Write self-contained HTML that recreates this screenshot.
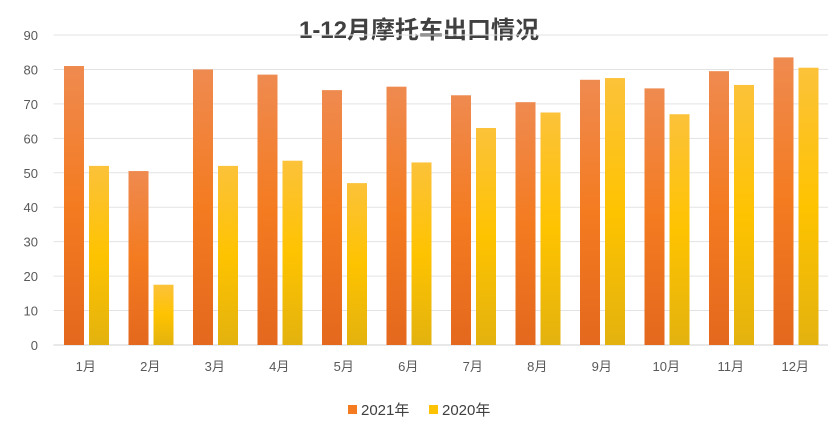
<!DOCTYPE html>
<html><head><meta charset="utf-8"><style>
body{margin:0;background:#fff;font-family:"Liberation Sans","Noto Sans CJK SC",sans-serif}
</style></head><body>
<svg width="838" height="428" id="c" xmlns="http://www.w3.org/2000/svg">
<defs>
<linearGradient id="g1" x1="0" y1="0" x2="0" y2="1"><stop offset="0" stop-color="#ef8a50"/><stop offset="0.5" stop-color="#f47b20"/><stop offset="1" stop-color="#e4681e"/></linearGradient>
<linearGradient id="g2" x1="0" y1="0" x2="0" y2="1"><stop offset="0" stop-color="#fcc23a"/><stop offset="0.5" stop-color="#fec300"/><stop offset="1" stop-color="#e3b20e"/></linearGradient>
</defs>
<text x="419" y="38" text-anchor="middle" font-size="24" font-weight="bold" fill="#404040">1-12月摩托车出口情况</text>
<g id="grid"></g><g id="bars"></g><g id="labels"></g>
<g>
<rect x="348" y="405" width="9" height="9" fill="#f47b20"/>
<text x="361" y="415" font-size="15" fill="#404040">2021年</text>
<rect x="429" y="405" width="9" height="9" fill="#fec300"/>
<text x="442" y="415" font-size="15" fill="#404040">2020年</text>
</g>
</svg>
<script>
const categories=["1月","2月","3月","4月","5月","6月","7月","8月","9月","10月","11月","12月"];
const series2021=[81,50.5,80,78.5,74,75,72.5,70.5,77,74.5,79.5,83.5];
const series2020=[52,17.5,52,53.5,47,53,63,67.5,77.5,67,75.5,80.5];
const yTicks=[0,10,20,30,40,50,60,70,80,90];
const NS="http://www.w3.org/2000/svg";
const x0=53.5,cw=64.5,y0=345,yTop=35,ymax=90;
const y=v=>y0-(v/ymax)*(y0-yTop);
function mk(tag,attrs,parent){const e=document.createElementNS(NS,tag);for(const k in attrs)e.setAttribute(k,attrs[k]);document.getElementById(parent).appendChild(e);return e;}
yTicks.forEach(t=>{
 const l=mk('line',{x1:x0,x2:828,y1:y(t),y2:y(t),stroke:t===0?'#d0d0d0':'#e3e3e3','stroke-width':1},'grid');
 
 
 const tx=mk('text',{x:38,y:y(t)+5,'text-anchor':'end','font-size':13,fill:'#595959'},'grid');
 tx.textContent=t;
 
 
});
categories.forEach((c,i)=>{
 const cx=x0+cw*i;
 const b1=mk('rect',{x:cx+10.5,y:y(series2021[i]),width:20,height:y0-y(series2021[i]),fill:'url(#g1)'},'bars');
 
 
 const b2=mk('rect',{x:cx+35.5,y:y(series2020[i]),width:20,height:y0-y(series2020[i]),fill:'url(#g2)'},'bars');
 
 
 const t=mk('text',{x:cx+cw/2,y:371,'text-anchor':'middle','font-size':13,fill:'#595959'},'labels');
 t.textContent=c;
 
 
});
</script>
</body></html>
